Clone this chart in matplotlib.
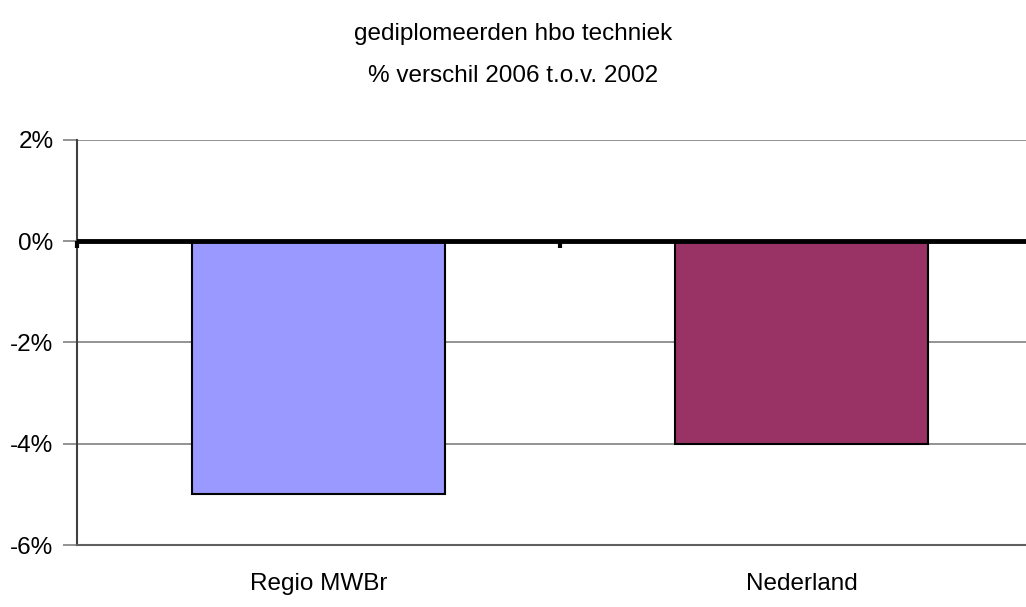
import numpy as np
import matplotlib
matplotlib.use("Agg")
import matplotlib.pyplot as plt
from matplotlib.ticker import FuncFormatter
from matplotlib import font_manager

# font: narrow arial look-alike if available
names = set(f.name for f in font_manager.fontManager.ttflist)
if "Liberation Sans Narrow" in names:
    plt.rcParams['font.family'] = ['Liberation Sans Narrow', 'DejaVu Sans']
    FS = 19
else:
    plt.rcParams['font.family'] = ['Liberation Sans', 'DejaVu Sans']
    FS = 17.5

#######################
# data
categories = ["Regio MWBr", "Nederland"]
values = [-5.0, -4.0]          # % verschil 2006 t.o.v. 2002
colors = ["#9999FF", "#993366"]
yticks = [-6, -4, -2, 0, 2]

title = "gediplomeerden hbo techniek\n% verschil 2006 t.o.v. 2002"

#######################
# figure
W, H = 1026, 607
fig = plt.figure(figsize=(W/100, H/100), dpi=100)
ax = fig.add_axes([77/W, (H-545)/H, 966/W, 405/H])

x = np.arange(len(categories))
ax.bar(x, values, width=0.525, color=colors, edgecolor="black", linewidth=1.5, zorder=3)

ax.set_xlim(-0.5, len(categories)-0.5)
ax.set_ylim(min(yticks), max(yticks))
ax.set_yticks(yticks)
ax.yaxis.set_major_formatter(FuncFormatter(lambda v, p: "%d%%" % v))
ax.grid(axis="y", color="#808080", linewidth=1.2, zorder=0)
ax.axhline(0, color="black", linewidth=3.5, zorder=4)

# category separator ticks on the zero line
ax.vlines(x - 0.5, 0, -0.13, color="black", linewidth=3, zorder=4, clip_on=False)

ax.set_xticks(x)
ax.set_xticklabels(categories, fontsize=FS)
ax.tick_params(axis="x", length=0, pad=20)
ax.tick_params(axis="y", length=10, width=1.2, color="#808080", labelsize=FS, pad=7)

for s in ["top", "right"]:
    ax.spines[s].set_visible(False)
ax.spines["left"].set_color("#404040")
ax.spines["left"].set_linewidth(1.5)
ax.spines["bottom"].set_color("#606060")
ax.spines["bottom"].set_linewidth(1.5)

fig.text(0.5, 1 - 55/H, title, ha="center", va="center", fontsize=FS, linespacing=2.2)

fig.savefig("out.png", dpi=100)
